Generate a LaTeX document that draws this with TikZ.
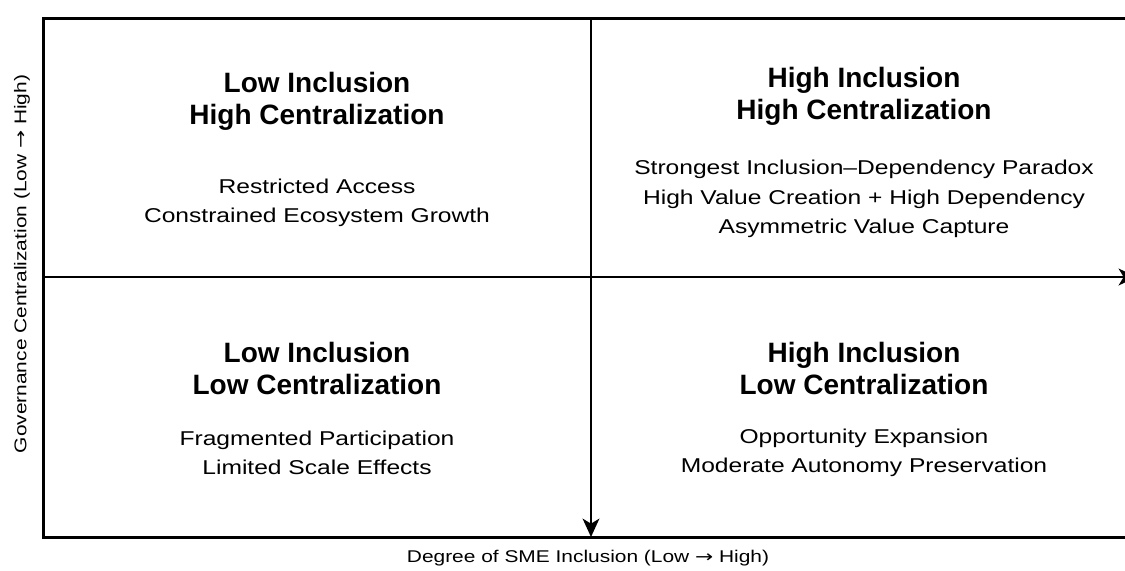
\documentclass[tikz,border=0pt]{standalone}
\usepackage{fontspec}
\setmainfont{Liberation Sans}
\newfontfamily\widesans[FakeStretch=1.23]{Liberation Sans}
\newfontfamily\arrowfont[FakeStretch=1.3]{DejaVu Sans}
\newcommand{\axarrow}{{\arrowfont\fontsize{10}{12}\selectfont →}}
\usetikzlibrary{arrows.meta, positioning}

\begin{document}
\begin{tikzpicture}[x=0.6pt, y=-0.6pt,
  frame/.style={draw=black, line width=1.8pt},
  axis/.style={line width=1.5pt, -{Stealth[length=11pt, width=10pt, inset=3pt]}},
  qtitle/.style={font=\fontsize{16.8}{19.2}\selectfont\bfseries, align=center, inner sep=0pt},
  qbody/.style={font=\widesans\fontsize{12}{17.6}\selectfont, align=center, inner sep=0pt},
  axlabel/.style={font=\widesans\fontsize{10.2}{12}\selectfont, inner sep=0pt}]
  \useasboundingbox (0,0) rectangle (1125,570);
  \clip (0,0) rectangle (1125,570);
  % outer frame (right side runs past the page edge)
  \draw[frame] (43,18) rectangle (1137,537);
  \coordinate (west)  at (43,277);
  \coordinate (east)  at (1137,277);
  \coordinate (north) at (591,18);
  \coordinate (south) at (591,537);
  \draw[axis] (west) -- (east);
  \draw[axis] (north) -- (south);
  % quadrants
  \node[qtitle] (tl-title) at (317,101) {Low Inclusion\\High Centralization};
  \node[qbody]  (tl-body)  at (317,203) {Restricted Access\\Constrained Ecosystem Growth};
  \node[qtitle] (tr-title) at (864,96)  {High Inclusion\\High Centralization};
  \node[qbody]  (tr-body)  at (864,199) {Strongest Inclusion–Dependency Paradox\\High Value Creation + High Dependency\\Asymmetric Value Capture};
  \node[qtitle] (bl-title) at (317,368) {Low Inclusion\\Low Centralization};
  \node[qbody]  (bl-body)  at (317,453) {Fragmented Participation\\Limited Scale Effects};
  \node[qtitle] (br-title) at (864,368) {High Inclusion\\Low Centralization};
  \node[qbody]  (br-body)  at (864,453) {Opportunity Expansion\\Moderate Autonomy Preservation};
  % axis labels
  \node[axlabel] (xlabel) at (588,558) {Degree of SME Inclusion (Low \axarrow{} High)};
  \node[axlabel, rotate=90] (ylabel) at (22,264) {Governance Centralization (Low \axarrow{} High)};
\end{tikzpicture}
\end{document}
